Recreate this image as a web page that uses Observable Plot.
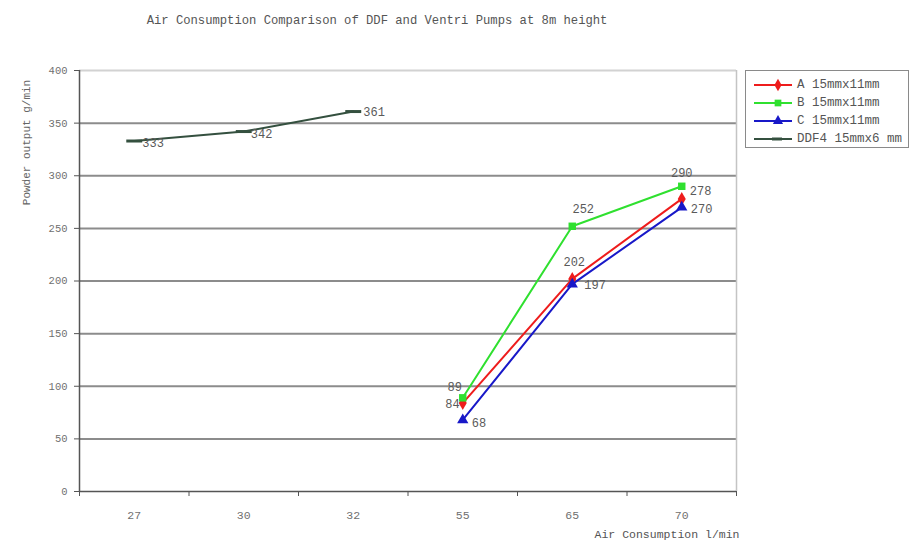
<!DOCTYPE html>
<html>
<head>
<meta charset="utf-8">
<script src="https://cdn.jsdelivr.net/npm/d3@7"></script>
<script src="https://cdn.jsdelivr.net/npm/@observablehq/plot@0.6"></script>
<style>
  body { margin: 0; background: #fff; }
  #chart { position: relative; width: 912px; height: 547px; font-family: "Liberation Mono", "DejaVu Sans Mono", monospace; }
  #legend { position: absolute; left: 745px; top: 70px; width: 162px; height: 76px; border: 1px solid #8a8a8a; background: #fff; }
  #legend .row { position: absolute; left: 4px; height: 16px; display: flex; align-items: center; font-size: 12.5px; color: #555; white-space: pre; }
  #legend svg { margin-right: 3px; }
</style>
</head>
<body>
<div id="chart"><div id="legend"></div></div>
<script>
// Air flow categories (l/min) along the x axis
const airFlow = ["27", "30", "32", "55", "65", "70"];
const seriesNames = ["A 15mmx11mm", "B 15mmx11mm", "C 15mmx11mm", "DDF4 15mmx6 mm"];
// Powder output (g/min) per air flow category
const seriesA = [null, null, null, 84, 202, 278];
const seriesB = [null, null, null, 89, 252, 290];
const seriesC = [null, null, null, 68, 197, 270];
const seriesDDF4 = [333, 342, 361, null, null, null];
const yTicks = [0, 50, 100, 150, 200, 250, 300, 350, 400];

const titleText = "Air Consumption Comparison of DDF and Ventri Pumps at 8m height";
const yTitle = "Powder output g/min";
const xTitle = "Air Consumption l/min";

// Styling per series
const colors = ["#ee1c1c", "#2fe02f", "#1818c8", "#34503f"];
const symbols = ["diamond", "square", "triangle", "dash"];

// Label offsets [dx, dy, anchor] keyed by series index and category index
const labelPlacement = {
  "0-3": [-3, 1, "end"], "0-4": [2, -17, "middle"], "0-5": [8, -8, "start"],
  "1-3": [-8, -11, "middle"], "1-4": [11, -17, "middle"], "1-5": [0, -13, "middle"],
  "2-3": [9, 3, "start"], "2-4": [12, 1, "start"], "2-5": [9, 2, "start"],
  "3-0": [8, 2, "start"], "3-1": [7, 3, "start"], "3-2": [10, 1, "start"]
};

const allSeries = [seriesA, seriesB, seriesC, seriesDDF4];
const rows = [];
allSeries.forEach((vals, s) => {
  vals.forEach((v, i) => {
    if (v != null) rows.push({s, series: seriesNames[s], i, value: v});
  });
});

const xDomain = [-0.5, airFlow.length - 0.5];
const boundaries = d3.range(airFlow.length + 1).map(k => k - 0.5);

// A short horizontal dash used as the DDF4 marker
const dashSymbol = {
  draw(context, size) {
    const w = Math.sqrt(size) * 0.9;
    context.moveTo(-w, 0);
    context.lineTo(w, 0);
  }
};

const font = "'Liberation Mono', 'DejaVu Sans Mono', monospace";

const labelMarks = rows.map(r => {
  const [dx, dy, anchor] = labelPlacement[`${r.s}-${r.i}`];
  return Plot.text([r], {
    x: "i", y: "value", text: d => String(d.value),
    dx, dy, textAnchor: anchor, fontSize: 12, fill: "#5a5a5a"
  });
});

const markerMarks = [0, 1, 2].map(s => Plot.dot(rows.filter(r => r.s === s), {
  x: "i", y: "value", symbol: () => symbols[s], fill: colors[s], r: 4.2
}));

const chart = Plot.plot({
  width: 912,
  height: 547,
  marginLeft: 79,
  marginRight: 176,
  marginTop: 70,
  marginBottom: 56,
  style: {fontFamily: font, fontSize: "11px", color: "#555", background: "#fff"},
  x: {domain: xDomain, axis: null},
  y: {domain: [0, 400], axis: null},
  symbol: {type: "identity"},
  marks: [
    // horizontal gridlines
    Plot.ruleY(yTicks.filter(d => d > 0 && d < 400), {stroke: "#8c8c8c", strokeWidth: 2}),
    Plot.ruleY([400], {stroke: "#d2d2d2", strokeWidth: 2}),
    Plot.ruleX([xDomain[1]], {stroke: "#c4c4c4", strokeWidth: 1.5}),
    // axes
    Plot.axisY({ticks: yTicks, tickSize: 5, tickPadding: 7, label: null, fontSize: 10.5, stroke: "#555", fill: "#707070"}),
    Plot.axisX({ticks: boundaries, tickSize: 5, tickFormat: () => "", label: null, stroke: "#555"}),
    Plot.axisX({ticks: d3.range(airFlow.length), tickSize: 0, tickPadding: 19, tickFormat: i => airFlow[i], label: null, fontSize: 11.5, fill: "#707070"}),
    Plot.ruleX([xDomain[0]], {stroke: "#555", strokeWidth: 1.5}),
    Plot.ruleY([0], {stroke: "#555", strokeWidth: 1.5}),
    // series lines
    ...[0, 1, 2, 3].map(s => Plot.line(rows.filter(r => r.s === s), {
      x: "i", y: "value", stroke: colors[s], strokeWidth: 2
    })),
    ...markerMarks,
    Plot.dot(rows.filter(r => r.s === 3), {x: "i", y: "value", symbol: () => dashSymbol, stroke: colors[3], strokeWidth: 3, r: 5}),
    ...labelMarks,
    // titles
    Plot.text([titleText], {frameAnchor: "top", dx: -31, dy: -55, fontSize: 12.2, fill: "#555"}),
    Plot.text([yTitle], {frameAnchor: "top-left", textAnchor: "middle", dx: -57, dy: 72, rotate: -90, fontSize: 11, fill: "#666"}),
    Plot.text([xTitle], {frameAnchor: "bottom-right", textAnchor: "end", dx: 3, dy: 46, fontSize: 11.5, fill: "#555"})
  ]
});

document.getElementById("chart").prepend(chart);

// Legend entries
const legend = d3.select("#legend");
seriesNames.forEach((name, s) => {
  const row = legend.append("div").attr("class", "row").style("top", `${6 + s * 18}px`);
  const svg = row.append("svg").attr("width", 44).attr("height", 14);
  svg.append("line").attr("x1", 4).attr("x2", 42).attr("y1", 7).attr("y2", 7)
    .attr("stroke", colors[s]).attr("stroke-width", 2);
  if (s < 3) {
    const sym = [d3.symbolDiamond, d3.symbolSquare, d3.symbolTriangle][s];
    svg.append("path").attr("d", d3.symbol(sym, 45)()).attr("transform", "translate(28,7)").attr("fill", colors[s]);
  } else {
    svg.append("line").attr("x1", 22).attr("x2", 32).attr("y1", 7).attr("y2", 7)
      .attr("stroke", colors[s]).attr("stroke-width", 3);
  }
  row.append("span").text(name);
});
</script>
</body>
</html>
